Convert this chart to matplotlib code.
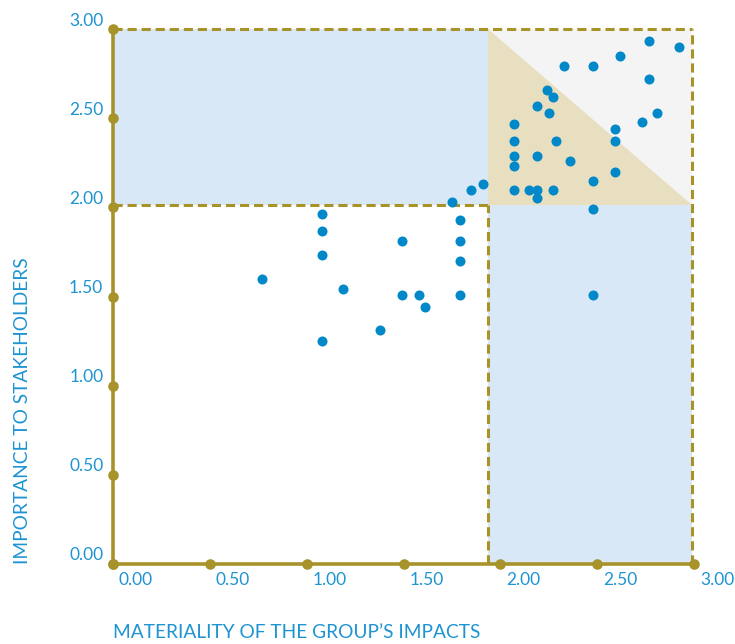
import numpy as np
import matplotlib
matplotlib.use("Agg")
import matplotlib.pyplot as plt
from matplotlib.patches import Rectangle, Polygon
from matplotlib.transforms import ScaledTranslation

# materiality matrix: x = impact of the group, y = importance to stakeholders
x_vals = [0.77, 1.08, 1.08, 1.08, 1.08, 1.19, 1.38, 1.49, 1.49, 1.58, 1.61,
          1.75, 1.79, 1.79, 1.79, 1.79, 1.85, 1.91,
          2.77, 2.92, 2.62, 2.33, 2.48, 2.77, 2.24, 2.27, 2.19, 2.25, 2.81,
          2.73, 2.07, 2.59, 2.07, 2.29, 2.59, 2.07, 2.19, 2.36, 2.07, 2.59,
          2.48, 2.07, 2.15, 2.19, 2.27, 2.19, 2.48, 2.48]
y_vals = [1.60, 1.96, 1.87, 1.73, 1.25, 1.54, 1.31, 1.81, 1.51, 1.51, 1.44,
          2.03, 1.93, 1.81, 1.70, 1.51, 2.10, 2.13,
          2.93, 2.90, 2.85, 2.79, 2.79, 2.72, 2.66, 2.62, 2.57, 2.53, 2.53,
          2.48, 2.47, 2.44, 2.37, 2.37, 2.37, 2.29, 2.29, 2.26, 2.23, 2.20,
          2.15, 2.10, 2.10, 2.10, 2.10, 2.05, 1.99, 1.51]

thr_x = 1.935   # where the dashed threshold sits on x
thr_y = 2.013   # and on y
edge = 2.99

ticks = [0.0, 0.5, 1.0, 1.5, 2.0, 2.5, 3.0]
tick_labels = ["0.00", "0.50", "1.00", "1.50", "2.00", "2.50", "3.00"]

olive = "#A8932B"
blue_txt = "#1E94D2"
dot_blue = "#0088C8"
light_blue = "#D9E8F7"
grey = "#F4F4F4"
beige = "#E8DFC1"

plt.rcParams["font.family"] = ["Lato", "DejaVu Sans"]

fig = plt.figure(figsize=(7.35, 6.44), dpi=100)
W, H = 735, 644
ax = fig.add_axes([113 / W, 1 - 564 / H, (694 - 113) / W, (564 - 29) / H])
ax.set_xlim(0, 3)
ax.set_ylim(0, 3)

# shaded zones
ax.add_patch(Rectangle((0, thr_y), thr_x, 3 - thr_y, color=light_blue, lw=0, zorder=0))
ax.add_patch(Rectangle((thr_x, 0), edge - thr_x, thr_y, color=light_blue, lw=0, zorder=0))
ax.add_patch(Rectangle((thr_x, thr_y), edge - thr_x, 3 - thr_y, color=grey, lw=0, zorder=0))
ax.add_patch(Polygon([(thr_x, 3), (thr_x, thr_y), (edge, thr_y)], closed=True,
                     color=beige, lw=0, zorder=0.5))

# dashed frames
dash = dict(color=olive, lw=2.2, ls=(0, (3, 1.6)), zorder=1, clip_on=False)
ax.plot([0, edge], [3, 3], **dash)
ax.plot([edge, edge], [0, 3], **dash)
ax.plot([0, thr_x], [thr_y, thr_y], **dash)
ax.plot([thr_x, thr_x], [0, thr_y], **dash)

ax.scatter(x_vals, y_vals, s=52, color=dot_blue, lw=0, zorder=3)

# axes lines with dots at ticks
for side in ["top", "right"]:
    ax.spines[side].set_visible(False)
for side in ["left", "bottom"]:
    ax.spines[side].set_color(olive)
    ax.spines[side].set_linewidth(2.6)
    ax.spines[side].set_zorder(4)
ax.scatter(ticks, [0] * len(ticks), s=58, color=olive, lw=0, zorder=5, clip_on=False)
ax.scatter([0] * len(ticks), ticks, s=58, color=olive, lw=0, zorder=5, clip_on=False)

ax.set_xticks(ticks)
ax.set_xticklabels(tick_labels)
ax.set_yticks(ticks)
ax.set_yticklabels(tick_labels)
ax.tick_params(length=0, labelsize=12.5, labelcolor=blue_txt)
ax.tick_params(axis="x", pad=6)
ax.tick_params(axis="y", pad=7)
for lab in ax.get_xticklabels():
    lab.set_transform(lab.get_transform() + ScaledTranslation(0.23, 0, fig.dpi_scale_trans))
for lab in ax.get_yticklabels():
    lab.set_transform(lab.get_transform() + ScaledTranslation(0, 0.1, fig.dpi_scale_trans))

fig.text(113 / W, 1 - 633 / H, "MATERIALITY OF THE GROUP\u2019S IMPACTS",
         color=blue_txt, fontsize=13.8, ha="left", va="center")
fig.text(23 / W, 1 - 564 / H, "IMPORTANCE TO STAKEHOLDERS", color=blue_txt,
         fontsize=13.8, rotation=90, ha="center", va="bottom")

fig.savefig("out.png", dpi=100)
